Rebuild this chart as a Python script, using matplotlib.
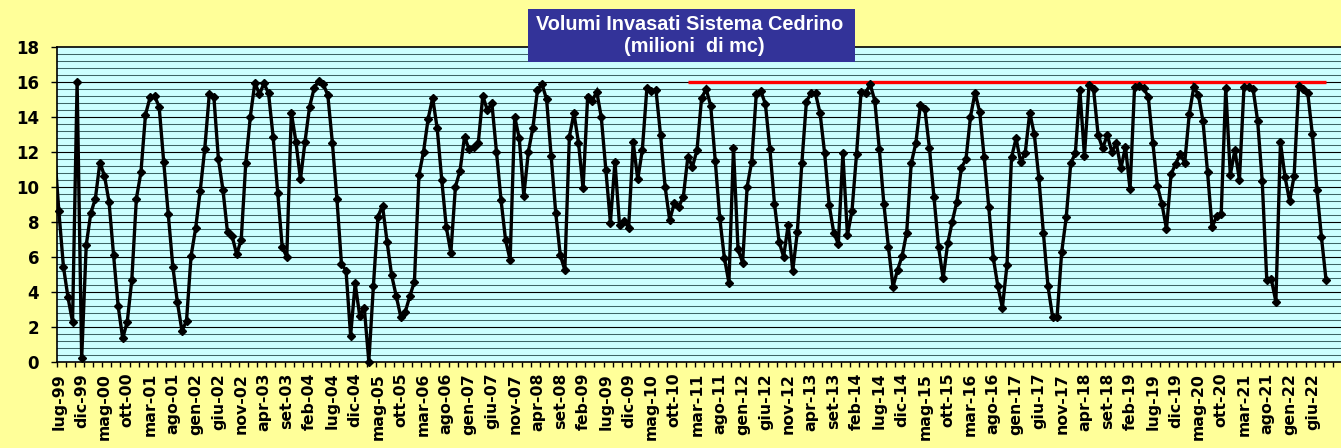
import numpy as np
import matplotlib
matplotlib.use("Agg")
import matplotlib.pyplot as plt
from matplotlib.patches import Rectangle
from matplotlib.ticker import FixedLocator

# ---------------- data ----------------
month_names = ['gen', 'feb', 'mar', 'apr', 'mag', 'giu',
               'lug', 'ago', 'set', 'ott', 'nov', 'dic']
start_year = 1999
start_month = 7          # lug-99

# value of the month before the first one (giu-99), only its line segment is visible
previous_value = 12.2

volumes = [
    8.6, 5.44, 3.68, 2.27, 16.0, 0.19,                                   # lug-99 .. dic-99
    6.68, 8.5, 9.33, 11.4, 10.65, 9.16, 6.1, 3.19, 1.34, 2.29, 4.68, 9.33,   # 2000
    10.84, 14.14, 15.13, 15.2, 14.6, 11.43, 8.45, 5.44, 3.4, 1.77, 2.33, 6.05,  # 2001
    7.63, 9.77, 12.18, 15.32, 15.17, 11.6, 9.83, 7.4, 7.2, 6.15, 6.97, 11.36,   # 2002
    14.03, 15.97, 15.32, 15.93, 15.36, 12.88, 9.68, 6.55, 6.01, 14.26, 12.6, 10.44,  # 2003
    12.6, 14.6, 15.65, 16.09, 15.88, 15.27, 12.54, 9.31, 5.59, 5.21, 1.49, 4.48,  # 2004
    2.63, 3.09, 0.0, 4.33, 8.3, 8.93, 6.87, 4.96, 3.76, 2.58, 2.86, 3.76,   # 2005
    4.58, 10.69, 12.02, 13.89, 15.11, 13.36, 10.4, 7.69, 6.24, 10.02, 10.92, 12.88,  # 2006
    12.16, 12.31, 12.5, 15.21, 14.41, 14.79, 12.02, 9.26, 6.97, 5.82, 14.03, 12.79,  # 2007
    9.5, 12.02, 13.4, 15.55, 15.88, 15.02, 11.79, 8.53, 6.1, 5.25, 12.88, 14.22,  # 2008
    12.54, 9.92, 15.13, 14.92, 15.46, 13.99, 10.97, 7.96, 11.45, 7.82, 8.05, 7.67,  # 2009
    12.56, 10.44, 12.12, 15.65, 15.52, 15.55, 12.98, 10.02, 8.11, 9.06, 8.87, 9.45,  # 2010
    11.74, 11.16, 12.12, 15.08, 15.62, 14.66, 11.5, 8.2, 5.95, 4.52, 12.21, 6.43,  # 2011
    5.67, 10.02, 11.45, 15.32, 15.5, 14.75, 12.16, 9.03, 6.87, 6.01, 7.82, 5.21,  # 2012
    7.4, 11.36, 14.89, 15.36, 15.36, 14.22, 11.93, 8.97, 7.39, 6.74, 11.93, 7.25,  # 2013
    8.63, 11.89, 15.46, 15.4, 15.88, 14.94, 12.16, 9.01, 6.55, 4.29, 5.25, 6.05,  # 2014
    7.39, 11.36, 12.5, 14.69, 14.45, 12.21, 9.41, 6.55, 4.77, 6.77, 8.02, 9.16,  # 2015
    11.11, 11.58, 14.03, 15.4, 14.31, 11.7, 8.87, 5.95, 4.33, 3.09, 5.53, 11.7,  # 2016
    12.79, 11.45, 11.93, 14.26, 13.02, 10.5, 7.35, 4.33, 2.58, 2.58, 6.26, 8.26,  # 2017
    11.36, 11.93, 15.55, 11.77, 15.84, 15.59, 12.98, 12.21, 12.98, 12.02, 12.5, 11.07,  # 2018
    12.31, 9.87, 15.74, 15.76, 15.65, 15.17, 12.54, 10.06, 9.03, 7.6, 10.73, 11.32,  # 2019
    11.89, 11.39, 14.18, 15.74, 15.27, 13.78, 10.88, 7.69, 8.34, 8.45, 15.65, 10.69,  # 2020
    12.12, 10.4, 15.71, 15.74, 15.61, 13.78, 10.34, 4.68, 4.71, 3.44, 12.56, 10.59,  # 2021
    9.2, 10.63, 15.78, 15.59, 15.36, 13.02, 9.83, 7.12, 4.68,             # 2022 (gen .. set)
]

capacity_value = 16.0
capacity_start = 'gen-11'

title_lines = ['Volumi Invasati Sistema Cedrino', '(milioni  di mc)']
y_ticks = [0, 2, 4, 6, 8, 10, 12, 14, 16, 18]

# category labels (lug-99, ago-99, ...)
n = len(volumes)
categories = []
for i in range(n):
    m = (start_month - 1 + i) % 12
    y = (start_year + (start_month - 1 + i) // 12) % 100
    categories.append(f"{month_names[m]}-{y:02d}")
label_step = 5

# ---------------- figure ----------------
W, H = 1341, 448
fig = plt.figure(figsize=(W / 100, H / 100), dpi=100)
fig.patch.set_facecolor('#FFFF99')

ax = fig.add_axes([56.6 / W, 1 - 361.7 / H, 1 - 56.6 / W, (361.7 - 47.3) / H])
ax.set_facecolor('#CCFFFF')

x = np.arange(n)

# horizontal grid lines every 0.4
for k in range(1, 45):
    yv = k * 0.4
    major = (k % 5 == 0)
    ax.axhline(yv, color='#000000' if major else '#3d6666',
               lw=0.8 if major else 0.75, zorder=1)

# red reference line
i0 = categories.index(capacity_start)
ax.plot(x[i0:], [capacity_value] * (n - i0), color='#FF0000', lw=2.4,
        solid_capstyle='butt', zorder=3)

# black series: line (clipped) + markers
ax.plot(np.concatenate([[-1], x]), [previous_value] + volumes,
        color='black', lw=2.4, zorder=4, solid_joinstyle='miter')
ax.plot(x, volumes, linestyle='none', marker='D', markersize=4.4,
        color='black', zorder=5, clip_on=False)

ax.set_xlim(-0.5, (W - 58.9) / 4.558)
ax.set_ylim(0, 18)

# y axis
ax.set_yticks(y_ticks)
ax.set_yticklabels([str(v) for v in y_ticks])
ax.tick_params(axis='y', direction='out', length=4, width=1, pad=8.5,
               labelsize=12, color='black')
for lab in ax.get_yticklabels():
    lab.set_fontweight('bold')
    lab.set_family('DejaVu Sans')

# x axis
major_pos = list(range(0, n, label_step))
ax.xaxis.set_major_locator(FixedLocator(major_pos))
ax.set_xticklabels([categories[i] for i in major_pos], rotation=90)
ax.xaxis.set_minor_locator(FixedLocator(np.arange(-0.5, 290, 2)))
ax.tick_params(axis='x', which='major', length=0, pad=8, labelsize=11.3)
ax.tick_params(axis='x', which='minor', direction='out', length=3.6, width=1,
               color='black')
for lab in ax.get_xticklabels():
    lab.set_fontweight('bold')
    lab.set_family('DejaVu Sans')

for side in ['left', 'bottom', 'top']:
    ax.spines[side].set_color('black')
    ax.spines[side].set_linewidth(1.2)
ax.spines['right'].set_visible(False)

# title box
bx0, by0, bx1, by1 = 528, 9, 855, 62
fig.patches.append(Rectangle((bx0 / W, 1 - by1 / H), (bx1 - bx0) / W, (by1 - by0) / H,
                             transform=fig.transFigure, facecolor='#333399',
                             edgecolor='none', zorder=10))
fig.text(690 / W, 1 - 25 / H, title_lines[0], color='white', fontsize=14.3,
         fontweight='bold', family='Liberation Sans', ha='center', va='center', zorder=11)
fig.text(694 / W, 1 - 47 / H, title_lines[1], color='white', fontsize=14.3,
         fontweight='bold', family='Liberation Sans', ha='center', va='center', zorder=11)

fig.savefig('out.png', dpi=100, facecolor=fig.get_facecolor())
